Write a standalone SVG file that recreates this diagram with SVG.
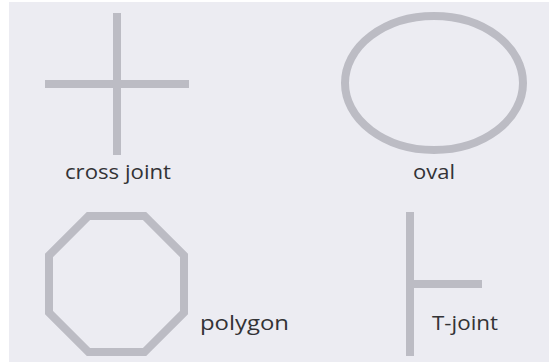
<svg xmlns="http://www.w3.org/2000/svg" width="549" height="362" viewBox="0 0 549 362">
<style>
.shape{fill:none;stroke:#bcbcc4;stroke-width:8}
.lbl{font-family:"Open Sans","Liberation Sans",sans-serif;font-size:20px;font-weight:500;fill:#333336}
</style>
<rect x="0" y="0" width="549" height="362" fill="#ffffff"/>
<rect x="9" y="2" width="540" height="360" fill="#ececf2"/>
<g id="cross-joint">
<line class="shape" x1="117" y1="13" x2="117" y2="155"/>
<line class="shape" x1="45" y1="84" x2="189" y2="84"/>
<text class="lbl" x="65" y="179" textLength="106" lengthAdjust="spacingAndGlyphs">cross joint</text>
</g>
<g id="oval">
<ellipse class="shape" cx="434" cy="83" rx="89" ry="67" stroke-width="7"/>
<text class="lbl" x="413" y="179" textLength="42" lengthAdjust="spacingAndGlyphs">oval</text>
</g>
<g id="polygon">
<polygon class="shape" points="88.5,216 144.5,216 184,255.5 184,312.5 144.5,352 88.5,352 49,312.5 49,255.5"/>
<text class="lbl" x="200" y="330" textLength="89" lengthAdjust="spacingAndGlyphs">polygon</text>
</g>
<g id="t-joint">
<line class="shape" x1="410" y1="212" x2="410" y2="356"/>
<line class="shape" x1="414" y1="284" x2="482" y2="284"/>
<text class="lbl" x="432" y="330" textLength="66" lengthAdjust="spacingAndGlyphs">T-joint</text>
</g>
</svg>
